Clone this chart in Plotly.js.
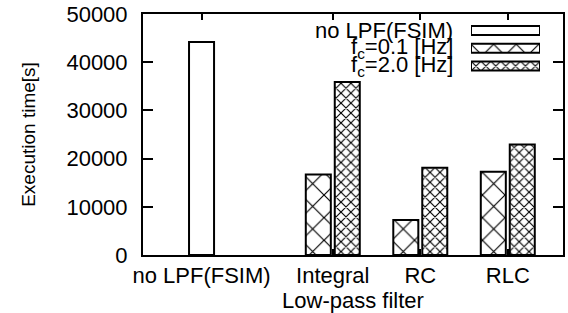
<!DOCTYPE html>
<html>
<head>
<meta charset="utf-8">
<script src="https://cdn.plot.ly/plotly-3.0.1.min.js"></script>
<style>html,body{margin:0;padding:0;background:#fff;}</style>
</head>
<body>
<div id="chart" style="width:568px;height:313px;"></div>
<script>
// ---- data ----
const categories = ['no LPF(FSIM)', 'Integral', 'RC', 'RLC'];
const seriesNames = ['no LPF(FSIM)', 'f<sub>c</sub>=0.1 [Hz]', 'f<sub>c</sub>=2.0 [Hz]'];
const noLPF = [44200, null, null, null];
const fc01 = [null, 16700, 7250, 17250];
const fc20 = [null, 35900, 18100, 22950];
const yTicks = [0, 10000, 20000, 30000, 40000, 50000];

// ---- layout helpers (positions / styles) ----
const catPos = [0, 1.5, 2.5, 3.5];
const barW = 0.286;
const slot = 0.331;
const FONT = 'Liberation Sans, Arial, sans-serif';

const styles = [
  {shape: '', size: 8, solidity: 0.2},      // no LPF
  {shape: 'x', size: 16, solidity: 0.14},   // fc=0.1
  {shape: 'x', size: 7, solidity: 0.3}      // fc=2.0
];
function mk(st) {
  return {
    color: '#ffffff',
    line: {color: '#000000', width: 2},
    pattern: {shape: st.shape, size: st.size, solidity: st.solidity,
              fgcolor: '#000000', bgcolor: '#ffffff', fillmode: 'replace'}
  };
}

const seriesVals = [noLPF, fc01, fc20];
const seriesCenter = [0, -0.5, 0.5]; // center shift, in slots
const traces = [];
[0, 1, 2].forEach(function (i) {
  traces.push({
    type: 'bar', x: catPos, y: seriesVals[i], name: seriesNames[i],
    width: barW, offset: seriesCenter[i] * slot - barW / 2,
    marker: mk(styles[i]), showlegend: false, hoverinfo: 'skip',
    xaxis: 'x', yaxis: 'y'
  });
});

// legend swatches drawn as a tiny bar chart on a second axis pair
const legendRows = [0, 1, 2];
traces.push({
  type: 'bar', orientation: 'h', y: legendRows, x: legendRows.map(function(){return 1;}),
  base: 0, width: 0.5,
  marker: {
    color: '#ffffff',
    line: {color: '#000000', width: 2},
    pattern: {shape: styles.map(s => s.shape), size: styles.map(s => s.size),
              solidity: styles.map(s => s.solidity),
              fgcolor: '#000000', bgcolor: '#ffffff', fillmode: 'replace'}
  },
  showlegend: false, hoverinfo: 'skip', xaxis: 'x2', yaxis: 'y2'
});

const L = 143, R = 5, T = 14, B = 58;
const W = 568, H = 313;
const pw = W - L - R, ph = H - T - B;
function px2x(px) { return (px - L) / pw; }
function py2y(py) { return (H - B - py) / ph; }

const rowPy = [30.5, 48.2, 66];
const annotations = seriesNames.map(function (n, i) {
  return {text: n, xref: 'paper', yref: 'paper', x: px2x(455), y: py2y(rowPy[i]),
          xanchor: 'right', yanchor: 'middle', showarrow: false,
          font: {family: FONT, size: 22, color: '#000'}};
});

const layout = {
  width: W, height: H,
  margin: {l: L, r: R, t: T, b: B, pad: 0},
  paper_bgcolor: '#fff', plot_bgcolor: 'rgba(0,0,0,0)',
  barmode: 'overlay',
  showlegend: false,
  font: {family: FONT, color: '#000'},
  xaxis: {
    range: [-0.669, 4.131], tickvals: catPos, ticktext: categories,
    ticks: 'inside', ticklen: 6, tickwidth: 2, tickcolor: '#000',
    showline: true, linewidth: 2, linecolor: '#000', mirror: 'ticks',
    showgrid: false, zeroline: false, layer: 'below traces',
    tickfont: {family: FONT, size: 22, color: '#000'},
    title: {text: 'Low-pass filter', font: {family: FONT, size: 22, color: '#000'}, standoff: 4},
    fixedrange: true
  },
  yaxis: {
    range: [0, 50000], tickvals: yTicks, ticktext: yTicks.map(String),
    ticks: 'inside', ticklen: 10, tickwidth: 2, tickcolor: '#000',
    showline: true, linewidth: 2, linecolor: '#000', mirror: 'ticks',
    showgrid: false, zeroline: false, ticklabelstandoff: 9,
    tickfont: {family: FONT, size: 22, color: '#000'},
    title: {text: 'Execution time[s]', font: {family: FONT, size: 19, color: '#000'}, standoff: 26},
    fixedrange: true
  },
  xaxis2: {
    domain: [px2x(471), px2x(540)], range: [0, 1], anchor: 'y2',
    visible: false, fixedrange: true
  },
  yaxis2: {
    domain: [py2y(rowPy[2] + 8.9), py2y(rowPy[0] - 8.9)], range: [2.5, -0.5], anchor: 'x2',
    visible: false, fixedrange: true
  },
  annotations: annotations
};

Plotly.newPlot('chart', traces, layout, {displayModeBar: false, staticPlot: true});
</script>
</body>
</html>
